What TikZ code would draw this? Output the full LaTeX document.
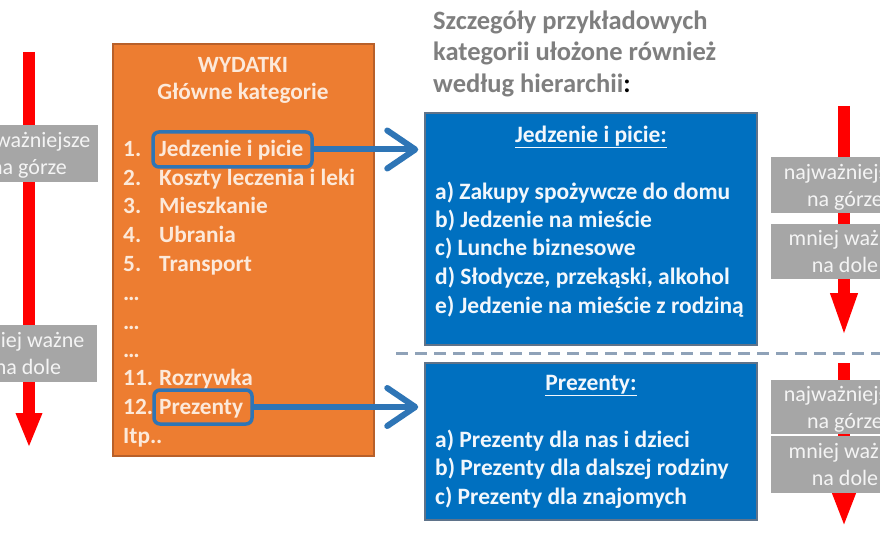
\documentclass[tikz,border=0pt]{standalone}
\usepackage{fontspec}
\setmainfont{Carlito}
\usetikzlibrary{arrows.meta}
\definecolor{orfill}{HTML}{ED7D31}
\definecolor{orline}{HTML}{B8602A}
\definecolor{ortext}{HTML}{FCE9DA}
\definecolor{blfill}{HTML}{0070C0}
\definecolor{blline}{HTML}{5F738A}
\definecolor{bltext}{HTML}{F2F7FC}
\definecolor{hlblue}{HTML}{2E75B6}
\definecolor{grbox}{HTML}{A6A6A6}
\definecolor{grtext}{HTML}{F4F4F4}
\definecolor{headgray}{HTML}{7F7F7F}
\definecolor{dashc}{HTML}{8FA2B8}
\definecolor{redarrow}{HTML}{FF0000}
\begin{document}
\begin{tikzpicture}[x=1pt,y=-1pt,
  obox/.style={draw=orline, line width=1.2pt, fill=orfill, inner sep=0, minimum width=261pt, minimum height=412pt},
  bbox/.style={draw=blline, line width=1.5pt, fill=blfill, inner sep=0, minimum width=332pt},
  gbox/.style={fill=grbox, inner sep=0, minimum width=148pt, align=center, text=grtext, text depth=0pt, font=\fontsize{22}{27}\selectfont},
  hl/.style={draw=hlblue, line width=3.5pt, rounded corners=6pt, inner sep=0},
  otl/.style={anchor=mid west, inner sep=0, text=ortext, font=\bfseries\fontsize{23.3}{27}\selectfont},
  otc/.style={anchor=mid, inner sep=0, text=ortext, font=\bfseries\fontsize{23.3}{27}\selectfont},
  btl/.style={anchor=mid west, inner sep=0, text=bltext, font=\bfseries\fontsize{23.5}{27}\selectfont},
  btc/.style={anchor=mid, inner sep=0, text=bltext, font=\bfseries\fontsize{23.5}{27}\selectfont},
  htl/.style={anchor=mid west, inner sep=0, text=headgray, font=\bfseries\fontsize{26.5}{30}\selectfont},
  barrow/.style={draw=hlblue, line width=6pt, line cap=round, -{Straight Barb[length=28pt,width=38pt,round]}, shorten >=6pt},
  rarrow/.style={draw=redarrow, line width=12pt, -{Triangle[length=35pt,width=24pt]}},
]
\useasboundingbox (0,0) rectangle (880,540);
\clip (0,0) rectangle (880,540);
\fill[white] (0,0) rectangle (880,540);

% left red arrow with grey labels
\coordinate (la1) at (29,52);
\coordinate (la2) at (29,448);
\draw[rarrow] (la1) -- (la2);
\node[gbox, minimum width=138pt, minimum height=57pt] (gl1) at (29,153.5) {najważniejsze\\na górze};
\node[gbox, minimum width=138pt, minimum height=57pt] (gl2) at (28,353.5) {mniej ważne\\na dole};

% orange box
\node[obox] (ob) at (243.5,250) {};
\node[otc] (t0) at (243,70) {WYDATKI};
\node[otc] (t00) at (243,97) {Główne kategorie};
\node[otl] (n1) at (123,154.5) {1.};
\node[otl] (i1) at (159,154.5) {Jedzenie i picie};
\node[otl] (n2) at (123,183) {2.};
\node[otl] (i2) at (159,183) {Koszty leczenia i leki};
\node[otl] (n3) at (123,211.5) {3.};
\node[otl] (i3) at (159,211.5) {Mieszkanie};
\node[otl] (n4) at (123,240.5) {4.};
\node[otl] (i4) at (159,240.5) {Ubrania};
\node[otl] (n5) at (123,269) {5.};
\node[otl] (i5) at (159,269) {Transport};
\node[otl] (d1) at (123,298) {…};
\node[otl] (d2) at (123,327) {…};
\node[otl] (d3) at (123,355) {…};
\node[otl] (n11) at (123,383.5) {11.};
\node[otl] (i11) at (159,383.5) {Rozrywka};
\node[otl] (n12) at (123,412) {12.};
\node[otl] (i12) at (159,412) {Prezenty};
\node[otl] (itp) at (123,441) {Itp..};

% highlights
\node[hl, minimum width=159pt, minimum height=35pt] (h1) at (232.5,149.5) {};
\node[hl, minimum width=98pt, minimum height=34pt] (h2) at (203,407) {};

% heading
\node[htl] (hd1) at (433,27) {Szczegóły przykładowych};
\node[htl] (hd2) at (433,58) {kategorii ułożone również};
\node[htl] (hd3) at (433,90) {według hierarchii\textcolor{black}{:}};

% blue boxes
\node[bbox, minimum height=232pt] (b1) at (591,229) {};
\node[btc] (b1t) at (591,140) {\underline{Jedzenie i picie:}};
\node[btl] (b1a) at (435,197) {a) Zakupy spożywcze do domu};
\node[btl] (b1b) at (435,225) {b) Jedzenie na mieście};
\node[btl] (b1c) at (435,253.5) {c) Lunche biznesowe};
\node[btl] (b1d) at (435,282) {d) Słodycze, przekąski, alkohol};
\node[btl] (b1e) at (435,311) {e) Jedzenie na mieście z rodziną};

\node[bbox, minimum height=157pt] (b2) at (591,441.5) {};
\node[btc] (b2t) at (591,388) {\underline{Prezenty:}};
\node[btl] (b2a) at (435,445) {a) Prezenty dla nas i dzieci};
\node[btl] (b2b) at (435,473.5) {b) Prezenty dla dalszej rodziny};
\node[btl] (b2c) at (435,502) {c) Prezenty dla znajomych};

% blue arrows
\draw[barrow] (h1.east) -- (h1.east -| b1.west);
\draw[barrow] (h2.east) -- (h2.east -| b2.west);

% dashed separator
\coordinate (ds1) at (396,353);
\coordinate (ds2) at (880,353);
\draw[dashc, line width=3pt, dash pattern=on 12pt off 7pt] (ds1) -- (ds2);

% right red arrows with grey labels
\coordinate (ra1) at (844,106);
\coordinate (ra2) at (844,338);
\draw[redarrow, line width=12pt, -{Triangle[length=45pt,width=24pt]}] (ra1) -- (ra2);
\node[gbox, minimum height=56pt] (gr1) at (845,185) {najważniejsze\\na górze};
\node[gbox, minimum height=55pt] (gr2) at (845,251.5) {mniej ważne\\na dole};

\coordinate (rb1) at (844,363);
\coordinate (rb2) at (844,527);
\draw[redarrow, line width=12pt, -{Triangle[length=38pt,width=24pt]}] (rb1) -- (rb2);
\node[gbox, minimum height=54pt] (gr3) at (845,407) {najważniejsze\\na górze};
\node[gbox, minimum height=57pt] (gr4) at (845,464.5) {mniej ważne\\na dole};
\end{tikzpicture}
\end{document}
